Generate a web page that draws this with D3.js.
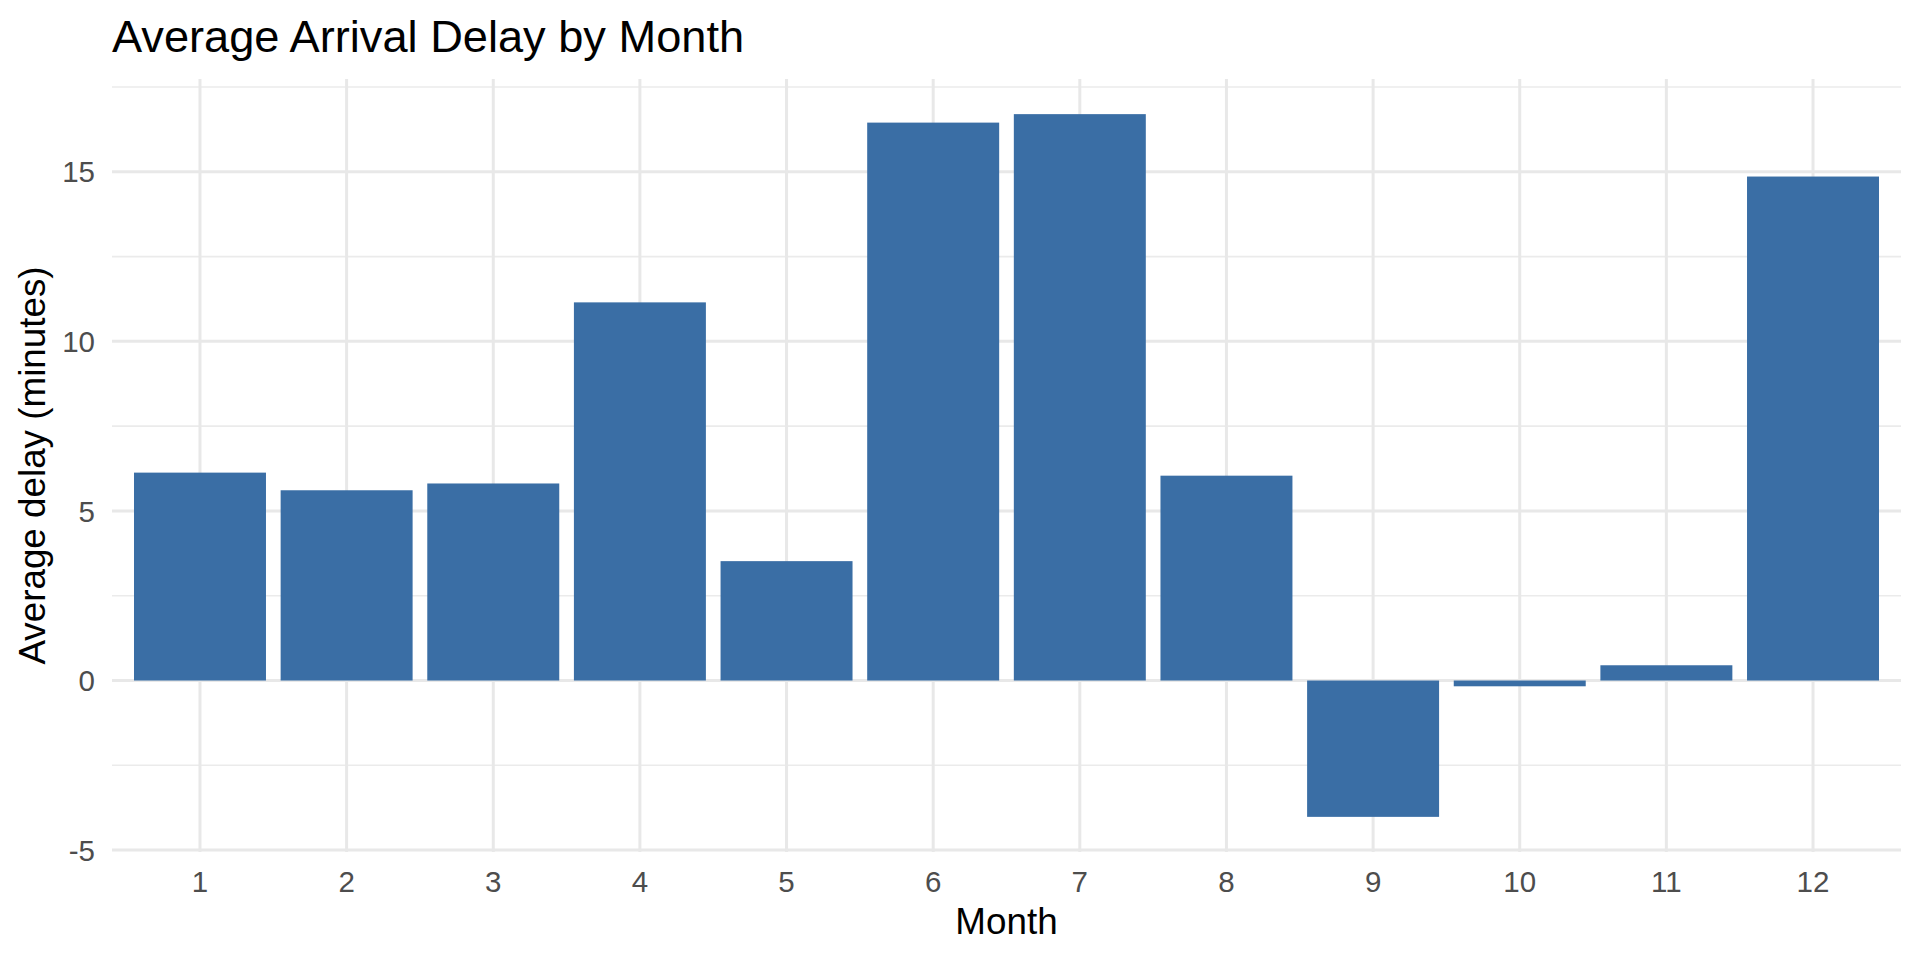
<!DOCTYPE html>
<html lang="en">
<head>
  <meta charset="UTF-8">
  <title>Average Arrival Delay by Month</title>
  <script src="https://d3js.org/d3.v7.min.js"></script>
  <style>
    body { margin: 0; background: white; }
    svg { display: block; font-family: "Liberation Sans", Arial, Helvetica, sans-serif; }
    .grid-major { stroke: #e8e8e8; stroke-width: 3px; }
    .grid-minor { stroke: #ebebeb; stroke-width: 1.6px; }
    .tick-label { fill: #4d4d4d; font-size: 29.5px; }
    .axis-title { fill: black; font-size: 36.8px; }
    .bar { fill: #3a6ea5; }
  </style>
</head>
<body>
<svg id="chart"></svg>
<script>
// data
const months = ["1","2","3","4","5","6","7","8","9","10","11","12"];
const delays = [6.13, 5.61, 5.81, 11.15, 3.52, 16.45, 16.70, 6.04, -4.02, -0.17, 0.45, 14.86];
const yTicks = [-5, 0, 5, 10, 15];
const yMinor = [-2.5, 2.5, 7.5, 12.5, 17.5];

const titleText = "Average Arrival Delay by Month";
const xTitle = "Month";
const yTitle = "Average delay (minutes)";

const width = 1920, height = 960;
const panel = { left: 112, right: 1901, top: 79, bottom: 852 };

const svg = d3.select("#chart").attr("width", width).attr("height", height);

// ggplot style 5% expansion of the data range
const lo = d3.min(delays), hi = d3.max(delays);
const pad = (hi - lo) * 0.05;
const y = d3.scaleLinear().domain([lo - pad, hi + pad]).range([panel.bottom, panel.top]);

const x = d3.scaleBand()
  .domain(months)
  .range([panel.left, panel.right])
  .paddingInner(0.1)
  .paddingOuter(0.15);

// gridlines
svg.append("g").selectAll("line")
  .data(yMinor)
  .join("line")
  .attr("class", "grid-minor")
  .attr("x1", panel.left).attr("x2", panel.right)
  .attr("y1", d => y(d)).attr("y2", d => y(d));

svg.append("g").selectAll("line")
  .data(yTicks)
  .join("line")
  .attr("class", "grid-major")
  .attr("x1", panel.left).attr("x2", panel.right)
  .attr("y1", d => y(d)).attr("y2", d => y(d));

svg.append("g").selectAll("line")
  .data(months)
  .join("line")
  .attr("class", "grid-major")
  .attr("x1", d => x(d) + x.bandwidth() / 2).attr("x2", d => x(d) + x.bandwidth() / 2)
  .attr("y1", panel.top).attr("y2", panel.bottom);

// bars
svg.append("g").selectAll("rect")
  .data(delays)
  .join("rect")
  .attr("class", "bar")
  .attr("x", (d, i) => x(months[i]))
  .attr("width", x.bandwidth())
  .attr("y", d => y(Math.max(0, d)))
  .attr("height", d => Math.abs(y(d) - y(0)));

// tick labels
svg.append("g").selectAll("text")
  .data(yTicks)
  .join("text")
  .attr("class", "tick-label")
  .attr("x", 95)
  .attr("y", d => y(d))
  .attr("dy", "0.36em")
  .attr("text-anchor", "end")
  .text(d => d);

svg.append("g").selectAll("text")
  .data(months)
  .join("text")
  .attr("class", "tick-label")
  .attr("x", d => x(d) + x.bandwidth() / 2)
  .attr("y", 892)
  .attr("text-anchor", "middle")
  .text(d => d);

// titles
svg.append("text")
  .attr("x", panel.left)
  .attr("y", 51.7)
  .attr("font-size", "45.2px")
  .attr("fill", "black")
  .text(titleText);

svg.append("text")
  .attr("class", "axis-title")
  .attr("x", (panel.left + panel.right) / 2)
  .attr("y", 934)
  .attr("text-anchor", "middle")
  .text(xTitle);

svg.append("text")
  .attr("class", "axis-title")
  .attr("transform", `translate(44.5,${(panel.top + panel.bottom) / 2}) rotate(-90)`)
  .attr("text-anchor", "middle")
  .text(yTitle);
</script>
</body>
</html>
